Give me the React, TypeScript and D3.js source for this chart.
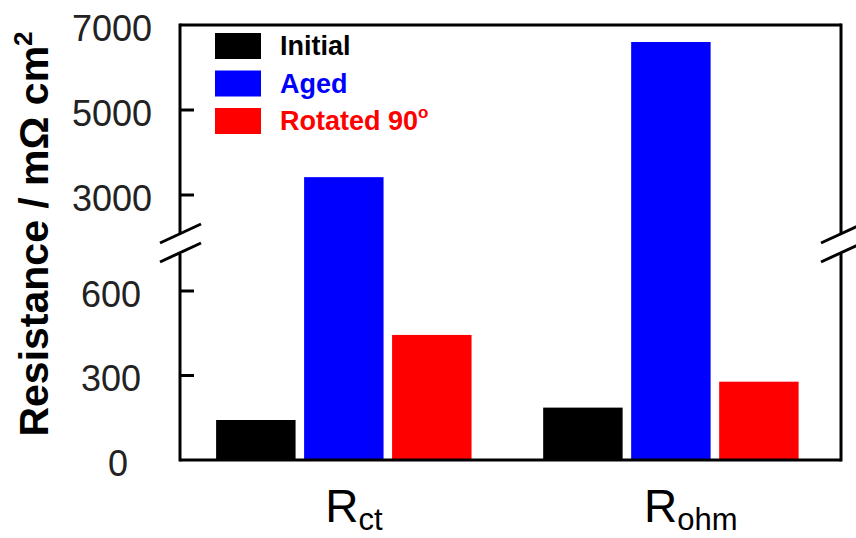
import React from "react";
import * as d3 from "d3";

const categories = ["Rct", "Rohm"];
const categorySubs = ["ct", "ohm"];
const series = ["Initial", "Aged", "Rotated 90"];
const seriesColors = ["#000000", "#0000ff", "#ff0000"];
const initialValues = [142, 186];
const agedValues = [3420, 6600];
const rotatedValues = [444, 278];
const lowerTicks = [0, 300, 600];
const upperTicks = [3000, 5000, 7000];

const W = 856;
const H = 538;
const left = 180;
const right = 841;
const top = 25;
const bottom = 460;
const breakTop = 233;
const breakBottom = 254;
const labelShift = [10, 20];

export default function App() {
  const values = [initialValues, agedValues, rotatedValues];
  const yLow = d3.scaleLinear().domain([0, 300]).range([bottom, 375.5]);
  const yHigh = d3.scaleLinear().domain([3000, 7000]).range([195, top]);
  const y = (v: number) => (v <= 1500 ? yLow(v) : yHigh(v));

  const x0 = d3
    .scaleBand<string>()
    .domain(categories)
    .range([left, right])
    .paddingInner(0.219)
    .paddingOuter(0.12)
    .align(0.46);
  const x1 = d3
    .scaleBand<string>()
    .domain(series)
    .range([0, x0.bandwidth()])
    .paddingInner(0.097)
    .paddingOuter(0);

  const font = "Liberation Sans, Arial, sans-serif";
  const sw = 3;

  const breakMark = (ax: number) => (
    <g stroke="#000" strokeWidth={sw} strokeLinecap="butt">
      <line x1={ax - 20} y1={243} x2={ax + 21} y2={224} />
      <line x1={ax - 20} y1={262} x2={ax + 21} y2={243} />
    </g>
  );

  return (
    <svg width={W} height={H} style={{ position: "absolute", left: 0, top: 0, background: "#fff" }}>
      <rect x={0} y={0} width={W} height={H} fill="#fff" />
      {/* bars */}
      {categories.map((c, ci) => (
        <g key={c} transform={`translate(${x0(c)},0)`}>
          {series.map((s, si) => {
            const v = values[si][ci];
            const yt = y(v);
            return (
              <rect
                key={s}
                x={x1(s)}
                y={yt}
                width={x1.bandwidth()}
                height={bottom - yt}
                fill={seriesColors[si]}
              />
            );
          })}
        </g>
      ))}
      {/* frame */}
      <g stroke="#000" strokeWidth={sw} fill="none">
        <line x1={left} y1={top} x2={right} y2={top} />
        <line x1={left} y1={bottom} x2={right} y2={bottom} />
        <line x1={left} y1={top - 1.5} x2={left} y2={breakTop} />
        <line x1={left} y1={breakBottom} x2={left} y2={bottom + 1.5} />
        <line x1={right} y1={top - 1.5} x2={right} y2={breakTop} />
        <line x1={right} y1={breakBottom} x2={right} y2={bottom + 1.5} />
        {upperTicks.slice(0, 2).map((t) => (
          <line key={t} x1={left} y1={yHigh(t)} x2={left + 14} y2={yHigh(t)} />
        ))}
        {lowerTicks.slice(1).map((t) => (
          <line key={t} x1={left} y1={yLow(t)} x2={left + 14} y2={yLow(t)} />
        ))}
      </g>
      {breakMark(left)}
      {breakMark(right)}
      {/* tick labels */}
      <g fontFamily={font} fontSize={36} fill="#222" textAnchor="middle">
        {upperTicks.map((t) => (
          <text key={t} x={112} y={yHigh(t) + 3} dominantBaseline="central">
            {t}
          </text>
        ))}
        {lowerTicks.map((t) => (
          <text key={t} x={t === 0 ? 118 : 111} y={yLow(t) + 3} dominantBaseline="central">
            {t}
          </text>
        ))}
      </g>
      {/* y title */}
      <text
        transform={`translate(48,234) rotate(-90)`}
        textAnchor="middle"
        fontFamily={font}
        fontWeight="bold"
        fontSize={41}
        fill="#000"
      >
        Resistance / mΩ cm
        <tspan fontSize={26} dy={-16}>
          2
        </tspan>
      </text>
      {/* x labels */}
      {categories.map((c, ci) => (
        <text
          key={c}
          x={(x0(c) as number) + x0.bandwidth() / 2 + labelShift[ci]}
          y={522}
          textAnchor="middle"
          fontFamily={font}
          fontSize={46}
          fill="#000"
        >
          R
          <tspan fontSize={31} dy={8}>
            {categorySubs[ci]}
          </tspan>
        </text>
      ))}
      {/* legend */}
      <g fontFamily={font} fontWeight="bold" fontSize={27}>
        {series.map((s, si) => (
          <g key={s} transform={`translate(215,${33 + si * 37.5})`}>
            <rect x={0} y={0} width={46} height={26} fill={seriesColors[si]} />
            <text x={65} y={22} fill={seriesColors[si]}>
              {s}
              {si === 2 ? (
                <tspan fontSize={17} dy={-12}>
                  o
                </tspan>
              ) : null}
            </text>
          </g>
        ))}
      </g>
    </svg>
  );
}
